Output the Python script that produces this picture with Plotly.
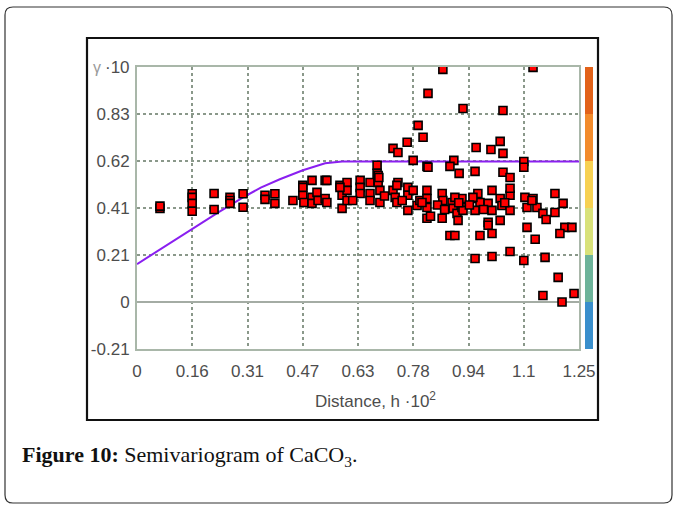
import plotly.graph_objects as go

# ---- data ----
dist = [0.065, 0.065, 0.156, 0.156, 0.156, 0.156, 0.218, 0.218, 0.263, 0.263,
        0.263, 0.300, 0.300, 0.362, 0.362, 0.390, 0.390, 0.441, 0.469, 0.469,
        0.472, 0.495, 0.495, 0.495, 0.509, 0.512, 0.532, 0.532, 0.537, 0.574,
        0.580, 0.580, 0.594, 0.594, 0.594, 0.631, 0.631, 0.631, 0.659, 0.659,
        0.679, 0.679, 0.682, 0.687, 0.687, 0.724, 0.738, 0.764, 0.781, 0.724,
        0.730, 0.735, 0.738, 0.766, 0.766, 0.781, 0.766, 0.792, 0.800, 0.809,
        0.820, 0.820, 0.820, 0.820, 0.820, 0.806, 0.865, 0.823, 0.922, 1.035,
        0.795, 0.959, 1.001, 1.027, 1.035, 1.120, 0.896, 0.823, 0.885, 0.911,
        0.956, 1.035, 1.055, 1.094, 1.094, 0.863, 0.865, 0.891, 0.894, 0.905,
        0.919, 0.919, 0.922, 0.956, 0.964, 0.970, 0.993, 1.004, 1.004, 1.027,
        1.032, 1.055, 1.055, 0.956, 0.830, 0.863, 0.908, 0.993, 0.993, 1.027,
        0.885, 0.899, 0.970, 1.004, 0.956, 1.004, 1.055, 1.097, 1.103, 1.120,
        1.131, 1.148, 1.157, 1.182, 1.182, 1.205, 1.210, 1.230, 1.196, 1.103,
        1.126, 1.094, 1.154, 1.191, 1.148, 1.202, 1.236, 0.469, 0.537, 0.574,
        0.735, 0.899, 0.950, 1.055, 1.117, 0.682, 0.684, 0.659, 0.610, 0.700,
        0.850, 0.940, 0.980, 0.870, 0.910, 1.040, 0.750]
gamma = [0.415, 0.425, 0.480, 0.464, 0.437, 0.402, 0.481, 0.410, 0.464, 0.450,
         0.437, 0.480, 0.420, 0.473, 0.455, 0.480, 0.437, 0.450, 0.517, 0.473,
         0.441, 0.539, 0.464, 0.437, 0.486, 0.450, 0.539, 0.459, 0.441, 0.517,
         0.473, 0.415, 0.530, 0.495, 0.450, 0.539, 0.508, 0.481, 0.530, 0.481,
         0.606, 0.570, 0.530, 0.495, 0.441, 0.681, 0.663, 0.708, 0.628, 0.495,
         0.464, 0.441, 0.530, 0.508, 0.473, 0.495, 0.406, 0.428, 0.450, 0.730,
         0.601, 0.495, 0.459, 0.419, 0.371, 0.441, 1.031, 0.925, 0.858, 0.849,
         0.783, 0.685, 0.676, 0.712, 0.659, 1.040, 0.628, 0.597, 0.601, 0.570,
         0.579, 0.575, 0.552, 0.623, 0.597, 0.481, 0.450, 0.441, 0.415, 0.393,
         0.459, 0.419, 0.406, 0.459, 0.481, 0.441, 0.437, 0.495, 0.406, 0.459,
         0.428, 0.473, 0.406, 0.406, 0.380, 0.371, 0.362, 0.353, 0.340, 0.362,
         0.295, 0.295, 0.295, 0.304, 0.193, 0.202, 0.224, 0.464, 0.419, 0.459,
         0.419, 0.393, 0.366, 0.481, 0.397, 0.437, 0.331, 0.331, 0.304, 0.331,
         0.278, 0.184, 0.198, 0.109, 0.029, 0.000, 0.038, 0.508, 0.539, 0.508,
         0.517, 0.464, 0.464, 0.504, 0.450, 0.561, 0.552, 0.450, 0.450, 0.470,
         0.430, 0.430, 0.410, 0.410, 0.440, 0.440, 0.450]

model_x = [0.0, 0.08, 0.156, 0.23, 0.30, 0.35, 0.404, 0.469, 0.532, 0.58, 1.25]
model_y = [0.168, 0.248, 0.326, 0.397, 0.464, 0.507, 0.544, 0.584, 0.615, 0.623, 0.623]

x_ticks = [0.0, 0.15625, 0.3125, 0.46875, 0.625, 0.78125, 0.9375, 1.09375, 1.25]
x_labels = ["0", "0.16", "0.31", "0.47", "0.63", "0.78", "0.94", "1.1", "1.25"]
y_ticks = [-0.2083, 0.0, 0.2083, 0.4167, 0.625, 0.8333]
y_labels = ["-0.21", "0", "0.21", "0.41", "0.62", "0.83"]
y_top = 1.0417
band_colors = ["#3a8fcc", "#6db39a", "#d9e27a", "#f7d152", "#f28b2c", "#e2621a"]

# ---- layout geometry (pixels of the 677x506 page) ----
W, H = 677, 506
L, R, T, B = 137, 579, 67, 349
def px(x):
    return (x - L) / (R - L)
def py(y):
    return (B - y) / (B - T)

fig = go.Figure()
fig.add_trace(go.Scatter(x=model_x, y=model_y, mode="lines",
                         line=dict(color="#8a1ff0", width=2), hoverinfo="skip"))
fig.add_trace(go.Scatter(x=dist, y=gamma, mode="markers",
                         marker=dict(symbol="square", size=8, color="#ff0000",
                                     line=dict(color="#000000", width=1.6))))

shapes = []
# outer rounded frame
x0, x1, y0, y1, r = px(5), px(672), py(503), py(7), 8
rx, ry = r / (R - L), r / (B - T)
path = (f"M {x0+rx},{y1} L {x1-rx},{y1} Q {x1},{y1} {x1},{y1-ry} "
        f"L {x1},{y0+ry} Q {x1},{y0} {x1-rx},{y0} L {x0+rx},{y0} "
        f"Q {x0},{y0} {x0},{y0+ry} L {x0},{y1-ry} Q {x0},{y1} {x0+rx},{y1} Z")
shapes.append(dict(type="path", xref="paper", yref="paper", path=path,
                   line=dict(color="#333333", width=1.2), layer="below"))
# inner chart box
shapes.append(dict(type="rect", xref="paper", yref="paper",
                   x0=px(87), x1=px(598), y0=py(420), y1=py(38),
                   line=dict(color="#111111", width=2.2), layer="below"))
# colour scale bar
edges = [-0.2083] + y_ticks[1:] + [y_top]
for i, c in enumerate(band_colors):
    shapes.append(dict(type="rect", xref="paper", yref="y",
                       x0=px(585), x1=px(593), y0=edges[i], y1=edges[i + 1],
                       fillcolor=c, line=dict(width=0)))

tick_font = dict(family="Liberation Sans, Arial", size=17, color="#4d4d4d")
fig.update_layout(
    width=W, height=H, autosize=False,
    margin=dict(l=L, r=W - R, t=T, b=H - B, pad=0),
    paper_bgcolor="white", plot_bgcolor="white",
    showlegend=False, shapes=shapes,
    xaxis=dict(range=[0, 1.25], tickvals=x_ticks, ticktext=x_labels,
               showgrid=True, gridcolor="#8a988a", griddash="dot", gridwidth=1.5,
               zeroline=False, showline=True, mirror=True, linecolor="#a9b7a9",
               linewidth=2, ticks="", tickfont=tick_font, ticklabelstandoff=6,
               automargin=False, fixedrange=True),
    yaxis=dict(range=[-0.2083, y_top], tickvals=y_ticks, ticktext=y_labels,
               showgrid=True, gridcolor="#8a988a", griddash="dot", gridwidth=1.5,
               zeroline=True, zerolinecolor="#a4aca4", zerolinewidth=2,
               showline=True, mirror=True, linecolor="#a9b7a9", linewidth=2,
               ticks="", tickfont=tick_font, ticklabelstandoff=2,
               automargin=False, fixedrange=True),
    annotations=[
        dict(xref="paper", yref="paper", x=px(132), y=py(67), xanchor="right",
             yanchor="middle", showarrow=False,
             text="·10", font=tick_font),
        dict(xref="paper", yref="paper", x=px(91), y=py(68), xanchor="left",
             yanchor="middle", showarrow=False,
             text="γ", font=dict(family="Liberation Sans, Arial", size=16,
                                 color="#9a9a9a")),
        dict(xref="paper", yref="paper", x=px(375), y=py(400), xanchor="center",
             yanchor="middle", showarrow=False,
             text="Distance, h ·10<sup>2</sup>", font=tick_font),
        dict(xref="paper", yref="paper", x=px(20), y=py(456), xanchor="left",
             yanchor="middle", showarrow=False,
             text="<b>Figure 10:</b> Semivariogram of CaCO<sub>3</sub>.",
             font=dict(family="Liberation Serif, Times New Roman", size=22,
                       color="#111111")),
    ],
)

fig.write_html("out.html")
